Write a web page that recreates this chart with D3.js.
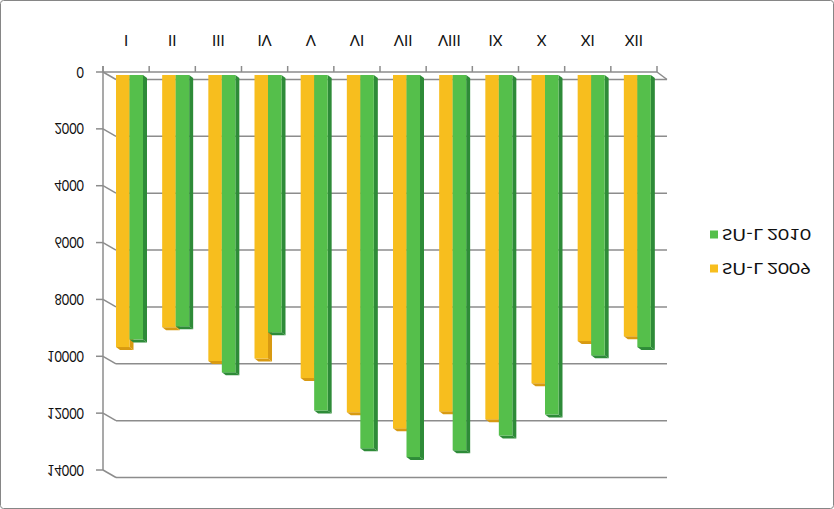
<!DOCTYPE html>
<html><head><meta charset="utf-8">
<script src="https://cdn.jsdelivr.net/npm/d3@7/dist/d3.min.js"></script>
<style>html,body{margin:0;padding:0;background:#fff;}svg{display:block;}</style>
</head><body>
<script>
const months = ["I","II","III","IV","V","VI","VII","VIII","IX","X","XI","XII"];
const values2009 = [9570, 8870, 10060, 9970, 10660, 11860, 12430, 11830, 12110, 10840, 9360, 9190];
const values2010 = [9300, 8840, 10460, 9050, 11800, 13130, 13440, 13200, 12680, 11940, 9860, 9570];
const yTicks = [0, 2000, 4000, 6000, 8000, 10000, 12000, 14000];
const seriesNames = ["S\u0548-L 2009", "S\u0548-L 2010"];
const seriesColors = [{front:"#F7BE1E", dark:"#D89A12"}, {front:"#55BF4B", dark:"#2E8B38"}];

const W = 834, H = 509;
const svg = d3.select("body").append("svg").attr("width", W).attr("height", H);
svg.append("rect").attr("x",0.5).attr("y",0.5).attr("width",W-1).attr("height",H-1)
  .attr("rx",3).attr("fill","#fff").attr("stroke","#868686").attr("stroke-width",1);

const y = d3.scaleLinear().domain([0,14000]).range([72, 470]);
const x = d3.scaleBand().domain(months).range([103, 657]).padding(0);
const xs = d3.scaleBand().domain([0,1]).range([13, 40]).padding(0);
const DX = 13, DY = 7.5, BD = 4, BDY = 3;
const gridColor = "#8c8c8c";

function flipText(g, tx, ty, txt, anchor, size, len){
  const t = g.append("text").attr("transform",`translate(${tx},${ty}) scale(1,-1)`)
    .attr("text-anchor",anchor).attr("dominant-baseline","central")
    .attr("font-family","Lato, 'DejaVu Sans', sans-serif").attr("font-size",size)
    .attr("fill","#111").text(txt);
  if (len) t.attr("textLength",len).attr("lengthAdjust","spacingAndGlyphs");
  return t;
}

const grid = svg.append("g").attr("stroke",gridColor).attr("stroke-width",1.5).attr("fill","none");
yTicks.forEach(v=>{
  const yy = y(v);
  grid.append("line").attr("x1",96).attr("x2",103).attr("y1",yy).attr("y2",yy);
  grid.append("line").attr("x1",103).attr("x2",103+DX).attr("y1",yy).attr("y2",yy+DY);
  grid.append("line").attr("x1",103+DX).attr("x2",667).attr("y1",yy+DY).attr("y2",yy+DY);
});
grid.append("line").attr("x1",103).attr("x2",103).attr("y1",66).attr("y2",y(14000));
grid.append("line").attr("x1",103).attr("x2",657).attr("y1",y(0)).attr("y2",y(0));
grid.append("line").attr("x1",657).attr("x2",667).attr("y1",y(0)).attr("y2",y(0)+DY);
const bounds = months.map(m=>x(m)).concat([657]);
bounds.forEach(bx=>{
  grid.append("line").attr("x1",bx).attr("x2",bx).attr("y1",66).attr("y2",y(0));
});

const series = [values2009, values2010];
const bars = svg.append("g");
series.forEach((vals, si)=>{
  const c = seriesColors[si];
  months.forEach((m,i)=>{
    const x0 = x(m) + xs(si), x1 = x0 + xs.bandwidth();
    const yt = y(0) + 3, yb = y(vals[i]) + 3;
    bars.append("path").attr("fill",c.dark)
      .attr("d",`M${x1},${yt}L${x1+BD},${yt+BDY}L${x1+BD},${yb+BDY}L${x1},${yb}Z`);
    bars.append("path").attr("fill",c.dark)
      .attr("d",`M${x0},${yb}L${x1},${yb}L${x1+BD},${yb+BDY}L${x0+BD},${yb+BDY}Z`);
    bars.append("rect").attr("x",x0).attr("y",yt).attr("width",x1-x0).attr("height",yb-yt).attr("fill",c.front);
  });
});

const lab = svg.append("g");
yTicks.forEach(v=> flipText(lab, 84, y(v), String(v), "end", 14.5, String(v).length*7.4));
months.forEach(m=> flipText(lab, x(m)+x.bandwidth()/2, 41, m, "middle", 15));

const leg = svg.append("g");
[1,0].forEach((si,k)=>{
  const ly = 235 + k*34;
  leg.append("rect").attr("x",710).attr("y",ly-4.5).attr("width",8).attr("height",8).attr("fill",seriesColors[si].front);
  flipText(leg, 722, ly, seriesNames[si], "start", 16, 89);
});
</script>
</body></html>
